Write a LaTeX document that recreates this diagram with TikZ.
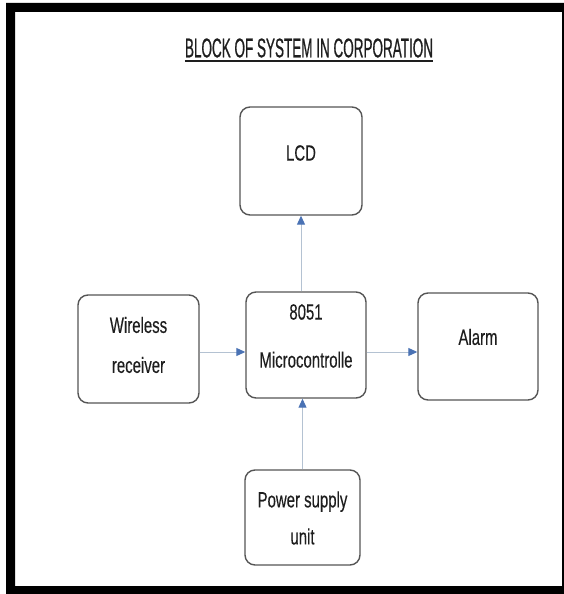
\documentclass[tikz,border=0pt]{standalone}
\usepackage{fontspec}
\usetikzlibrary{arrows.meta}
\newfontfamily\titlefont[FakeStretch=0.5,FakeBold=0.6]{Liberation Sans}
\newfontfamily\boxfont[FakeStretch=0.68,FakeBold=0.3]{Liberation Sans}
\definecolor{boxline}{HTML}{555555}
\definecolor{wireline}{HTML}{B4C2D2}
\definecolor{tipblue}{HTML}{4A72B4}
\definecolor{txt}{HTML}{1E1E1E}
\begin{document}
\begin{tikzpicture}[x=1pt,y=-1pt,
  block/.style={draw=boxline,line width=1.4pt,rounded corners=10pt,inner sep=0pt},
  lbl/.style={font=\boxfont\fontsize{22}{26}\selectfont,text=txt,align=center,inner sep=0pt},
  link/.style={draw=wireline,line width=1pt,-{Triangle[length=9pt,width=8pt,color=tipblue]}}]
  \useasboundingbox (0,0) rectangle (564,594);
  % frame
  \fill[even odd rule] (6,3) rectangle (564,594) (15,12) rectangle (562,586);
  % title
  \node[font=\titlefont\fontsize{27}{31}\selectfont,text=txt,inner sep=0pt] (title) at (309,48) {BLOCK OF SYSTEM IN CORPORATION};
  \draw[txt,line width=1.8pt] ([yshift=-4pt]title.base west) -- ([yshift=-4pt]title.base east);
  % blocks
  \node[block,minimum width=122pt,minimum height=108pt] (lcd) at (301,161) {};
  \node[block,minimum width=121pt,minimum height=108pt] (wrx) at (138.5,349) {};
  \node[block,minimum width=120pt,minimum height=106pt] (mcu) at (306,345) {};
  \node[block,minimum width=120pt,minimum height=107pt] (alarm) at (478,346.5) {};
  \node[block,minimum width=115pt,minimum height=95pt] (psu) at (302.5,517.5) {};
  \node[lbl] (lcdtxt) at (301,153) {LCD};
  \node[lbl] (wrxtxt) at (138.5,345) {Wireless\\[14pt]receiver};
  \node[lbl] (mcutxt) at (306,336) {8051\\[22pt]Microcontrolle};
  \node[lbl] (alarmtxt) at (478,337) {Alarm};
  \node[lbl] (psutxt) at (302.5,518) {Power supply\\[11pt]unit};
  % links
  \draw[link] (lcd.south |- mcu.north) -- (lcd.south);
  \draw[link] (psu.north) -- (psu.north |- mcu.south);
  \draw[link] ([yshift=-3pt]wrx.east) -- ([yshift=-3pt]wrx.east -| mcu.west);
  \draw[link] ([yshift=-7pt]mcu.east) -- ([yshift=-7pt]mcu.east -| alarm.west);
\end{tikzpicture}
\end{document}
